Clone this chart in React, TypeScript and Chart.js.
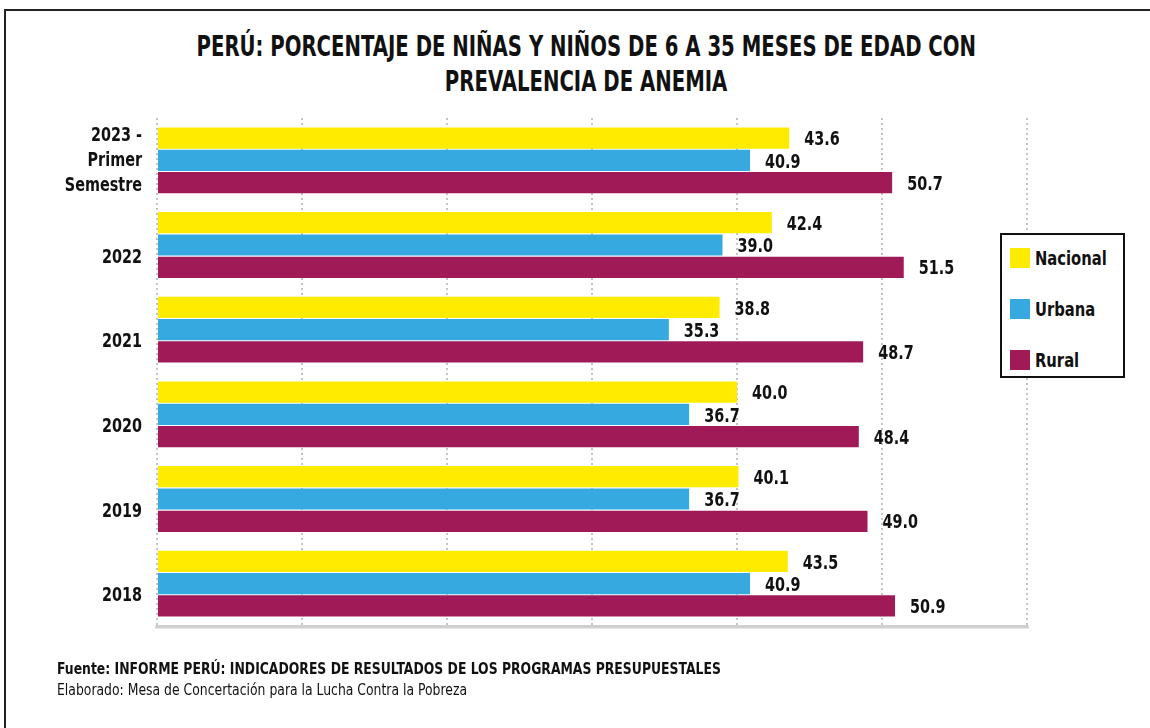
import React, { useEffect, useRef } from "react";
import { Chart, registerables } from "chart.js";

Chart.register(...registerables);

const categories: string[][] = [
  ["2023 -", "Primer", "Semestre"],
  ["", "2022"],
  ["", "2021"],
  ["", "2020"],
  ["", "2019"],
  ["", "2018"],
];
const nacional = [43.6, 42.4, 38.8, 40.0, 40.1, 43.5];
const urbana = [40.9, 39.0, 35.3, 36.7, 36.7, 40.9];
const rural = [50.7, 51.5, 48.7, 48.4, 49.0, 50.9];
const seriesNames = ["Nacional", "Urbana", "Rural"];
const seriesColors = ["#FFEB00", "#36A9E0", "#A01A58"];

const COND = '"DejaVu Sans Condensed", "Liberation Sans Narrow", Roboto, sans-serif';
const SQUEEZE = 0.8;

const valueLabels = {
  id: "valueLabels",
  afterDatasetsDraw(chart: any) {
    const ctx = chart.ctx;
    ctx.save();
    ctx.font = `bold 20px ${COND}`;
    ctx.fillStyle = "#111";
    ctx.textAlign = "left";
    ctx.textBaseline = "middle";
    chart.data.datasets.forEach((ds: any, di: number) => {
      const meta = chart.getDatasetMeta(di);
      meta.data.forEach((bar: any, i: number) => {
        const v = ds.data[i] as number;
        const x0 = bar.x + 15;
        ctx.save();
        ctx.translate(x0, bar.y + 2);
        ctx.scale(SQUEEZE, 1);
        ctx.fillText(v.toFixed(1), 0, 0);
        ctx.restore();
      });
    });
    ctx.restore();
  },
};

function Squeezed({ children, k, origin }: { children: any; k: number; origin: string }) {
  return (
    <span style={{ display: "inline-block", transform: `scaleX(${k})`, transformOrigin: origin, whiteSpace: "nowrap" }}>
      {children}
    </span>
  );
}

export default function App() {
  const ref = useRef<HTMLCanvasElement>(null);
  useEffect(() => {
    document.body.style.margin = "0";
    document.body.style.overflow = "hidden";
    const chart = new Chart(ref.current!, {
      type: "bar",
      data: {
        labels: categories,
        datasets: [nacional, urbana, rural].map((d, i) => ({
          label: seriesNames[i],
          data: d,
          backgroundColor: seriesColors[i],
          borderWidth: 0,
          barPercentage: 0.95,
          categoryPercentage: 0.79,
        })),
      },
      options: {
        indexAxis: "y",
        animation: false,
        responsive: false,
        devicePixelRatio: 1,
        layout: { padding: { top: 118, bottom: 102, left: 0, right: 123 } },
        plugins: { legend: { display: false }, tooltip: { enabled: false } },
        scales: {
          x: {
            min: 0,
            max: 60,
            ticks: { display: false, stepSize: 10 },
            grid: {
              color: "#c4c4c4",
              lineWidth: 2,
              drawTicks: false,
            },
            border: { display: true, color: "#d0d0d0", width: 3, dash: [2, 3] },
            afterFit: (s: any) => {
              s.height = 0;
            },
          },
          y: {
            grid: { display: false, drawTicks: false },
            border: { display: false },
            ticks: {
              color: "#111",
              padding: 15,
              font: { family: COND, size: 20, weight: "bold", lineHeight: 1.25 },
            },
            afterFit: (s: any) => {
              s.width = 157;
              if (!s._squeezed) {
                s._squeezed = true;
                const orig = s.drawLabels.bind(s);
                s.drawLabels = (area: any) => {
                  const ctx = s.ctx;
                  const ax = s.right - 15;
                  ctx.save();
                  ctx.translate(ax, 0);
                  ctx.scale(SQUEEZE, 1);
                  ctx.translate(-ax, 0);
                  orig(area);
                  ctx.restore();
                };
              }
            },
          },
        },
      },
      plugins: [
        valueLabels,
        {
          id: "solidAxisLine",
          beforeDatasetsDraw(c: any) {
            const ctx = c.ctx;
            const a = c.chartArea;
            ctx.save();
            ctx.strokeStyle = "#d0d0d0";
            ctx.lineWidth = 3;
            ctx.beginPath();
            ctx.moveTo(a.left - 2, a.bottom + 1);
            ctx.lineTo(a.right + 2, a.bottom + 1);
            ctx.stroke();
            ctx.restore();
          },
        },
      ],
    });
    return () => chart.destroy();
  }, []);

  const legendItems = seriesNames.map((n, i) => (
    <div
      key={n}
      style={{
        position: "absolute",
        left: 8,
        top: 12 + i * 51,
        display: "flex",
        alignItems: "center",
        height: 22,
      }}
    >
      <div style={{ width: 20, height: 20, background: seriesColors[i], marginRight: 5 }} />
      <span style={{ font: `bold 20px ${COND}`, color: "#111" }}>
        <Squeezed k={0.82} origin="left center">{n}</Squeezed>
      </span>
    </div>
  ));

  return (
    <div
      style={{
        position: "fixed",
        left: 0,
        top: 0,
        width: 1150,
        height: 728,
        overflow: "hidden",
        background: "#fff",
      }}
    >
      <div
        style={{
          position: "absolute",
          left: 4,
          top: 9,
          width: 1300,
          height: 900,
          border: "2px solid #222",
        }}
      />
      <div
        style={{
          position: "absolute",
          left: 0,
          top: 29,
          width: 1172,
          textAlign: "center",
          font: `bold 29px/35px ${COND}`,
          color: "#111",
        }}
      >
        <Squeezed k={0.755} origin="center">
          PERÚ: PORCENTAJE DE NIÑAS Y NIÑOS DE 6 A 35 MESES DE EDAD CON
        </Squeezed>
        <br />
        <Squeezed k={0.755} origin="center">
          PREVALENCIA DE ANEMIA
        </Squeezed>
      </div>
      <canvas ref={ref} width={1150} height={728} style={{ position: "absolute", left: 0, top: 0 }} />
      <div
        style={{
          position: "absolute",
          left: 1000,
          top: 233,
          width: 121,
          height: 141,
          border: "2px solid #111",
          background: "#fff",
        }}
      >
        {legendItems}
      </div>
      <div
        style={{
          position: "absolute",
          left: 57,
          top: 659,
          color: "#111",
          font: `15px/21px ${COND}`,
        }}
      >
        <div style={{ fontWeight: "bold" }}>
          <Squeezed k={0.92} origin="left center">
            Fuente: INFORME PERÚ: INDICADORES DE RESULTADOS DE LOS PROGRAMAS PRESUPUESTALES
          </Squeezed>
        </div>
        <div>
          <Squeezed k={0.92} origin="left center">
            Elaborado: Mesa de Concertación para la Lucha Contra la Pobreza
          </Squeezed>
        </div>
      </div>
    </div>
  );
}
